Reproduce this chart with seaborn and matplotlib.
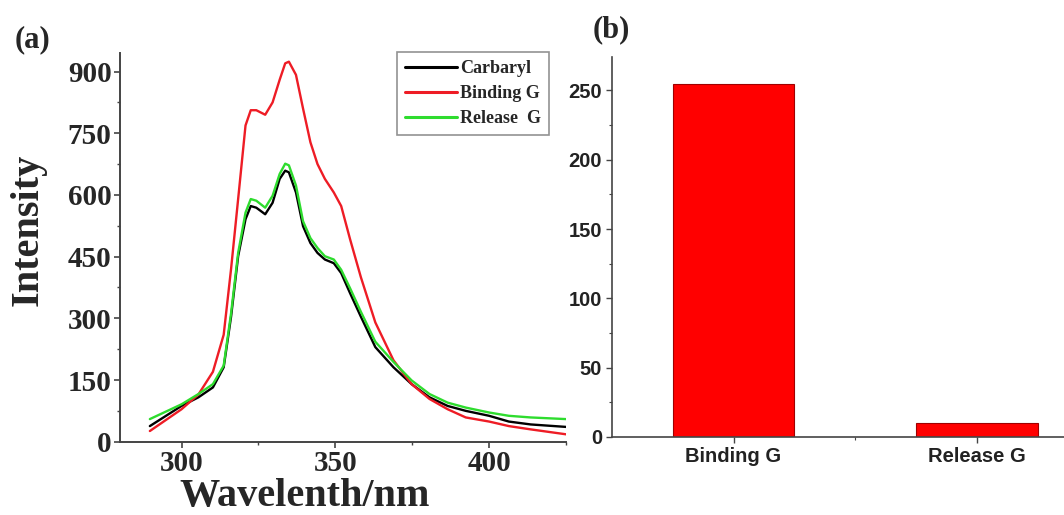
import matplotlib
matplotlib.use("Agg")
import matplotlib.pyplot as plt
from matplotlib.ticker import MultipleLocator, FixedLocator
import seaborn as sns
import pandas as pd

# ---- data ----
wavelength = [289.7, 300, 305.5, 310.2, 313.7, 316.1, 318.4, 320.8, 322.5, 324.3,
              327.2, 329.6, 331.9, 333.7, 334.9, 337.2, 339.5, 341.9, 344.2, 346.6,
              349.5, 351.9, 354.8, 358.3, 363.0, 368.9, 374.8, 380.6, 386.5, 392.4,
              400, 406.4, 413.5, 425]
carbaryl = [38, 87, 108, 132, 181, 304, 451, 541, 573, 569,
            553, 581, 639, 659, 655, 606, 524, 483, 459, 443,
            434, 410, 361, 304, 230, 181, 140, 108, 87, 75,
            63, 49, 42, 36]
binding = [26, 79, 115, 170, 260, 420, 590, 769, 806, 806,
           795, 825, 880, 920, 924, 892, 810, 728, 675, 639,
           606, 573, 492, 400, 290, 198, 140, 104, 79, 59,
           49, 38, 30, 18]
release = [55, 91, 116, 140, 185, 312, 459, 557, 590, 586,
           569, 598, 651, 676, 672, 623, 536, 495, 471, 451,
           443, 418, 373, 316, 243, 194, 149, 116, 95, 83,
           71, 63, 59, 55]
series_names = ["Carbaryl", "Binding G", "Release  G"]
series_colors = ["#000000", "#ee1c25", "#2edc2e"]

bar_categories = ["Binding G", "Release G"]
bar_values = [255, 10]

# ---- build long-form table ----
rows = []
for name, vals in zip(series_names, [carbaryl, binding, release]):
    for w, v in zip(wavelength, vals):
        rows.append({"Wavelength": w, "Intensity": v, "series": name})
df = pd.DataFrame(rows)
bar_df = pd.DataFrame({"cat": bar_categories, "val": bar_values})

sns.set_theme(style="white")
plt.rcParams["font.family"] = ["Liberation Serif", "DejaVu Serif"]

fig = plt.figure(figsize=(10.64, 5.15), dpi=100)
axL = fig.add_axes([0.1128, 0.1423, 0.4192, 0.7547])
axR = fig.add_axes([0.575, 0.1515, 0.425, 0.7375])

# ---- left panel ----
sns.lineplot(data=df, x="Wavelength", y="Intensity", hue="series",
             palette=dict(zip(series_names, series_colors)), hue_order=series_names,
             linewidth=1.7, ax=axL, legend=True, sort=False)
axL.set_xlim(280, 425)
axL.set_ylim(0, 945)
axL.xaxis.set_major_locator(FixedLocator([300, 350, 400]))
axL.xaxis.set_minor_locator(FixedLocator([325, 375, 425]))
axL.yaxis.set_major_locator(MultipleLocator(150))
axL.yaxis.set_minor_locator(MultipleLocator(75))
for s in ["top", "right"]:
    axL.spines[s].set_visible(False)
for s in ["left", "bottom"]:
    axL.spines[s].set_color("#444444")
    axL.spines[s].set_linewidth(1.4)
axL.tick_params(axis="both", which="major", direction="out", length=4, width=1.2,
                color="#444444", labelsize=21, pad=2, bottom=True, left=True)
axL.tick_params(axis="both", which="minor", direction="out", length=2.5, width=1.0,
                color="#444444", bottom=True, left=True)
for lab in axL.get_xticklabels() + axL.get_yticklabels():
    lab.set_fontweight("bold")
    lab.set_family("Liberation Serif")
axL.set_xlabel("Wavelenth/nm", fontsize=29, fontweight="bold",
               family="Liberation Serif", va="center")
axL.xaxis.set_label_coords(0.415, -0.14)
axL.set_ylabel("Intensity", fontsize=29, fontweight="bold",
               family="Liberation Serif", va="center")
axL.yaxis.set_label_coords(-0.206, 0.545)
handles, labels = axL.get_legend_handles_labels()
for h in handles:
    h.set_linewidth(2.2)
leg = axL.legend(handles, labels, loc="upper right", bbox_to_anchor=(0.962, 1.003),
                 frameon=True, fancybox=False, edgecolor="#777777",
                 prop={"family": "Liberation Serif", "weight": "bold", "size": 13},
                 handlelength=2.9, handletextpad=0.15, labelspacing=0.45,
                 borderpad=0.45, borderaxespad=0)
leg.get_frame().set_linewidth(1.2)

fig.text(0.014, 0.922, "(a)", fontsize=22, fontweight="bold", family="Liberation Serif",
         ha="left", va="center")

# ---- right panel ----
sns.barplot(data=bar_df, x="cat", y="val", color="#ff0000", width=0.5,
            edgecolor="#a00000", linewidth=0.8, ax=axR, saturation=1)
axR.set_xlim(-0.5, 1.357)
axR.set_ylim(0, 274)
axR.yaxis.set_major_locator(MultipleLocator(50))
axR.yaxis.set_minor_locator(MultipleLocator(25))
axR.xaxis.set_minor_locator(FixedLocator([0.5]))
for s in ["top", "right"]:
    axR.spines[s].set_visible(False)
for s in ["left", "bottom"]:
    axR.spines[s].set_color("#444444")
    axR.spines[s].set_linewidth(1.2)
axR.tick_params(axis="both", which="major", direction="out", length=4, width=1.0,
                color="#444444", labelsize=14.5, labelcolor="#222222", pad=3,
                bottom=True, left=True)
axR.tick_params(axis="both", which="minor", direction="out", length=2.5, width=0.8,
                color="#444444", bottom=True, left=True)
for lab in axR.get_xticklabels() + axR.get_yticklabels():
    lab.set_family("Liberation Sans")
    lab.set_fontweight("bold")
axR.set_xlabel("")
axR.set_ylabel("")
fig.text(0.557, 0.943, "(b)", fontsize=22, fontweight="bold", family="Liberation Serif",
         ha="left", va="center")

fig.savefig("out.png", dpi=100)
